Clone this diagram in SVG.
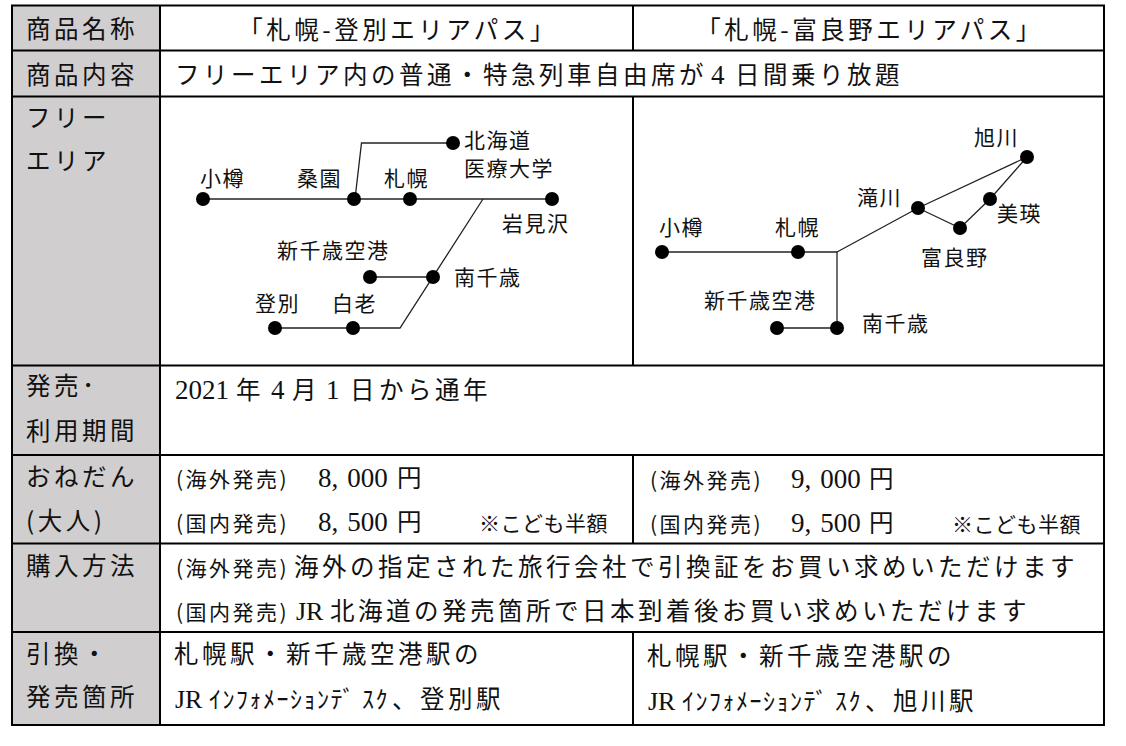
<svg xmlns="http://www.w3.org/2000/svg" width="1126" height="746" viewBox="0 0 1126 746">
<style>
.bg{fill:#fff}
.lab{fill:#d0cece}
.grid{stroke:#000;stroke-width:2;fill:none}
.t{font-family:"Noto Sans CJK JP",sans-serif;font-size:24.5px;letter-spacing:3.5px;fill:#111}
.s{font-family:"Noto Sans CJK JP",sans-serif;font-size:21px;letter-spacing:2.5px;fill:#111}
.k{font-family:"Noto Sans CJK JP",sans-serif;font-size:21px;letter-spacing:0.5px;fill:#111}
.h{font-family:"Noto Sans CJK JP",sans-serif;font-size:24px;letter-spacing:1.5px;fill:#111}
.n{font-family:"Liberation Serif",serif;font-size:27px;letter-spacing:0px;fill:#111}
.jr{font-family:"Liberation Serif",serif;font-size:26px;letter-spacing:0px;fill:#111}
.m{font-family:"Noto Sans CJK JP",sans-serif;font-size:21px;letter-spacing:1.5px;fill:#111}
.st{fill:#000}
.ln{stroke:#222;stroke-width:1.3;fill:none}
</style>
<rect class="bg" x="0" y="0" width="1126" height="746"/>

<g id="table">
  <rect class="lab" x="12" y="5.5" width="148" height="719.5"/>
</g>

<g id="grid">
  <rect class="grid" x="12" y="5.5" width="1092" height="719.5"/>
  <path class="grid" d="M12,50.5H1104M12,96.5H1104M12,365.5H1104M12,455H1104M12,543.5H1104M12,632H1104"/>
  <path class="grid" d="M160,5.5V725"/>
  <path class="grid" d="M633,5.5V50.5M633,96.5V365.5M633,455V543.5M633,632V725"/>
</g>

<g id="labels">
  <text class="t" x="26" y="38">商品名称</text>
  <text class="t" x="26" y="84">商品内容</text>
  <text class="t" x="26" y="127">フリー</text>
  <text class="t" x="26" y="170">エリア</text>
  <text class="t" x="26" y="395">発売･</text>
  <text class="t" x="26" y="440">利用期間</text>
  <text class="t" x="26" y="486">おねだん</text>
  <text class="t" x="26" y="530">(大人)</text>
  <text class="t" x="26" y="575">購入方法</text>
  <text class="t" x="26" y="663">引換・</text>
  <text class="t" x="26" y="706">発売箇所</text>
</g>

<g id="name-row">
  <text class="t" x="398" y="39" text-anchor="middle">「札幌-登別エリアパス」</text>
  <text class="t" x="870" y="39" text-anchor="middle">「札幌-富良野エリアパス」</text>
</g>

<g id="content-row">
  <text class="t" y="84"><tspan x="175">フリーエリア内の普通・特急列車自由席が</tspan><tspan class="n" x="711">4</tspan><tspan x="735">日間乗り放題</tspan></text>
</g>

<g id="period-row">
  <text class="t" y="399"><tspan class="n" x="175">2021</tspan><tspan x="236">年</tspan><tspan class="n" x="271">4</tspan><tspan x="292">月</tspan><tspan class="n" x="326">1</tspan><tspan x="350">日</tspan><tspan x="379">から通年</tspan></text>
</g>

<g id="price-left">
  <text class="t" y="487"><tspan class="s" x="176">(海外発売)</tspan><tspan class="n" x="318">8,</tspan><tspan class="n" dx="9">000</tspan><tspan x="397">円</tspan></text>
  <text class="t" y="531"><tspan class="s" x="176">(国内発売)</tspan><tspan class="n" x="318">8,</tspan><tspan class="n" dx="9">500</tspan><tspan x="397">円</tspan><tspan class="k" x="479">※こども半額</tspan></text>
</g>
<g id="price-right">
  <text class="t" y="488"><tspan class="s" x="650">(海外発売)</tspan><tspan class="n" x="791">9,</tspan><tspan class="n" dx="9">000</tspan><tspan x="869">円</tspan></text>
  <text class="t" y="532"><tspan class="s" x="650">(国内発売)</tspan><tspan class="n" x="791">9,</tspan><tspan class="n" dx="9">500</tspan><tspan x="869">円</tspan><tspan class="k" x="952">※こども半額</tspan></text>
</g>

<g id="purchase-row">
  <text class="t" y="576"><tspan class="s" x="176">(海外発売)</tspan><tspan x="294">海外の指定された旅行会社で引換証をお買い求めいただけます</tspan></text>
  <text class="t" y="620"><tspan class="s" x="176">(国内発売)</tspan><tspan class="jr" x="296">JR</tspan><tspan x="330">北海道の発売箇所で日本到着後お買い求めいただけます</tspan></text>
</g>

<g id="exchange-left">
  <text class="t" x="174" y="663">札幌駅・新千歳空港駅の</text>
  <text class="t" y="708"><tspan class="jr" x="175">JR</tspan><tspan class="h" x="209">ｲﾝﾌｫﾒｰｼｮﾝﾃﾞ</tspan><tspan class="h" dx="6">ｽｸ</tspan><tspan x="392">、登別駅</tspan></text>
</g>
<g id="exchange-right">
  <text class="t" x="647" y="665">札幌駅・新千歳空港駅の</text>
  <text class="t" y="710"><tspan class="jr" x="648">JR</tspan><tspan class="h" x="682">ｲﾝﾌｫﾒｰｼｮﾝﾃﾞ</tspan><tspan class="h" dx="6">ｽｸ</tspan><tspan x="865">、旭川駅</tspan></text>
</g>

<g id="connectors">
  <path class="ln" d="M203,199H552"/>
  <path class="ln" d="M355,199L361.5,143H453"/>
  <path class="ln" d="M483,199L400,328H275"/>
  <path class="ln" d="M370,277H433"/>
  <path class="ln" d="M662,252H837V328H777"/>
  <path class="ln" d="M837,252L918,208L1027,157M918,208L960,228L990,199L1027,157"/>
</g>

<g id="a-otaru"><circle class="st" cx="203" cy="199" r="7"/><text class="m" x="200" y="186">小樽</text></g>
<g id="a-soen"><circle class="st" cx="354" cy="199" r="7"/><text class="m" x="297" y="186">桑園</text></g>
<g id="a-sapporo"><circle class="st" cx="410" cy="199" r="7"/><text class="m" x="384" y="186">札幌</text></g>
<g id="a-iwamizawa"><circle class="st" cx="552" cy="199" r="7"/><text class="m" x="502" y="231">岩見沢</text></g>
<g id="a-iryodai"><circle class="st" cx="453" cy="143" r="7"/><text class="m" x="464" y="148">北海道</text><text class="m" x="464" y="176">医療大学</text></g>
<g id="a-shinchitose"><circle class="st" cx="370" cy="277" r="7"/><text class="m" x="277" y="258">新千歳空港</text></g>
<g id="a-minamichitose"><circle class="st" cx="433" cy="277" r="7"/><text class="m" x="454" y="285">南千歳</text></g>
<g id="a-noboribetsu"><circle class="st" cx="275" cy="328" r="7"/><text class="m" x="255" y="311">登別</text></g>
<g id="a-shiraoi"><circle class="st" cx="353" cy="328" r="7"/><text class="m" x="332" y="311">白老</text></g>

<g id="b-otaru"><circle class="st" cx="662" cy="252" r="7"/><text class="m" x="659" y="235">小樽</text></g>
<g id="b-sapporo"><circle class="st" cx="798" cy="252" r="7"/><text class="m" x="775" y="235">札幌</text></g>
<g id="b-shinchitose"><circle class="st" cx="777" cy="328" r="7"/><text class="m" x="704" y="308">新千歳空港</text></g>
<g id="b-minamichitose"><circle class="st" cx="837" cy="328" r="7"/><text class="m" x="862" y="331">南千歳</text></g>
<g id="b-takikawa"><circle class="st" cx="918" cy="208" r="7"/><text class="m" x="857" y="205">滝川</text></g>
<g id="b-asahikawa"><circle class="st" cx="1027" cy="157" r="7"/><text class="m" x="974" y="145">旭川</text></g>
<g id="b-furano"><circle class="st" cx="960" cy="228" r="7"/><text class="m" x="921" y="265">富良野</text></g>
<g id="b-biei"><circle class="st" cx="990" cy="199" r="7"/><text class="m" x="997" y="221">美瑛</text></g>
</svg>
